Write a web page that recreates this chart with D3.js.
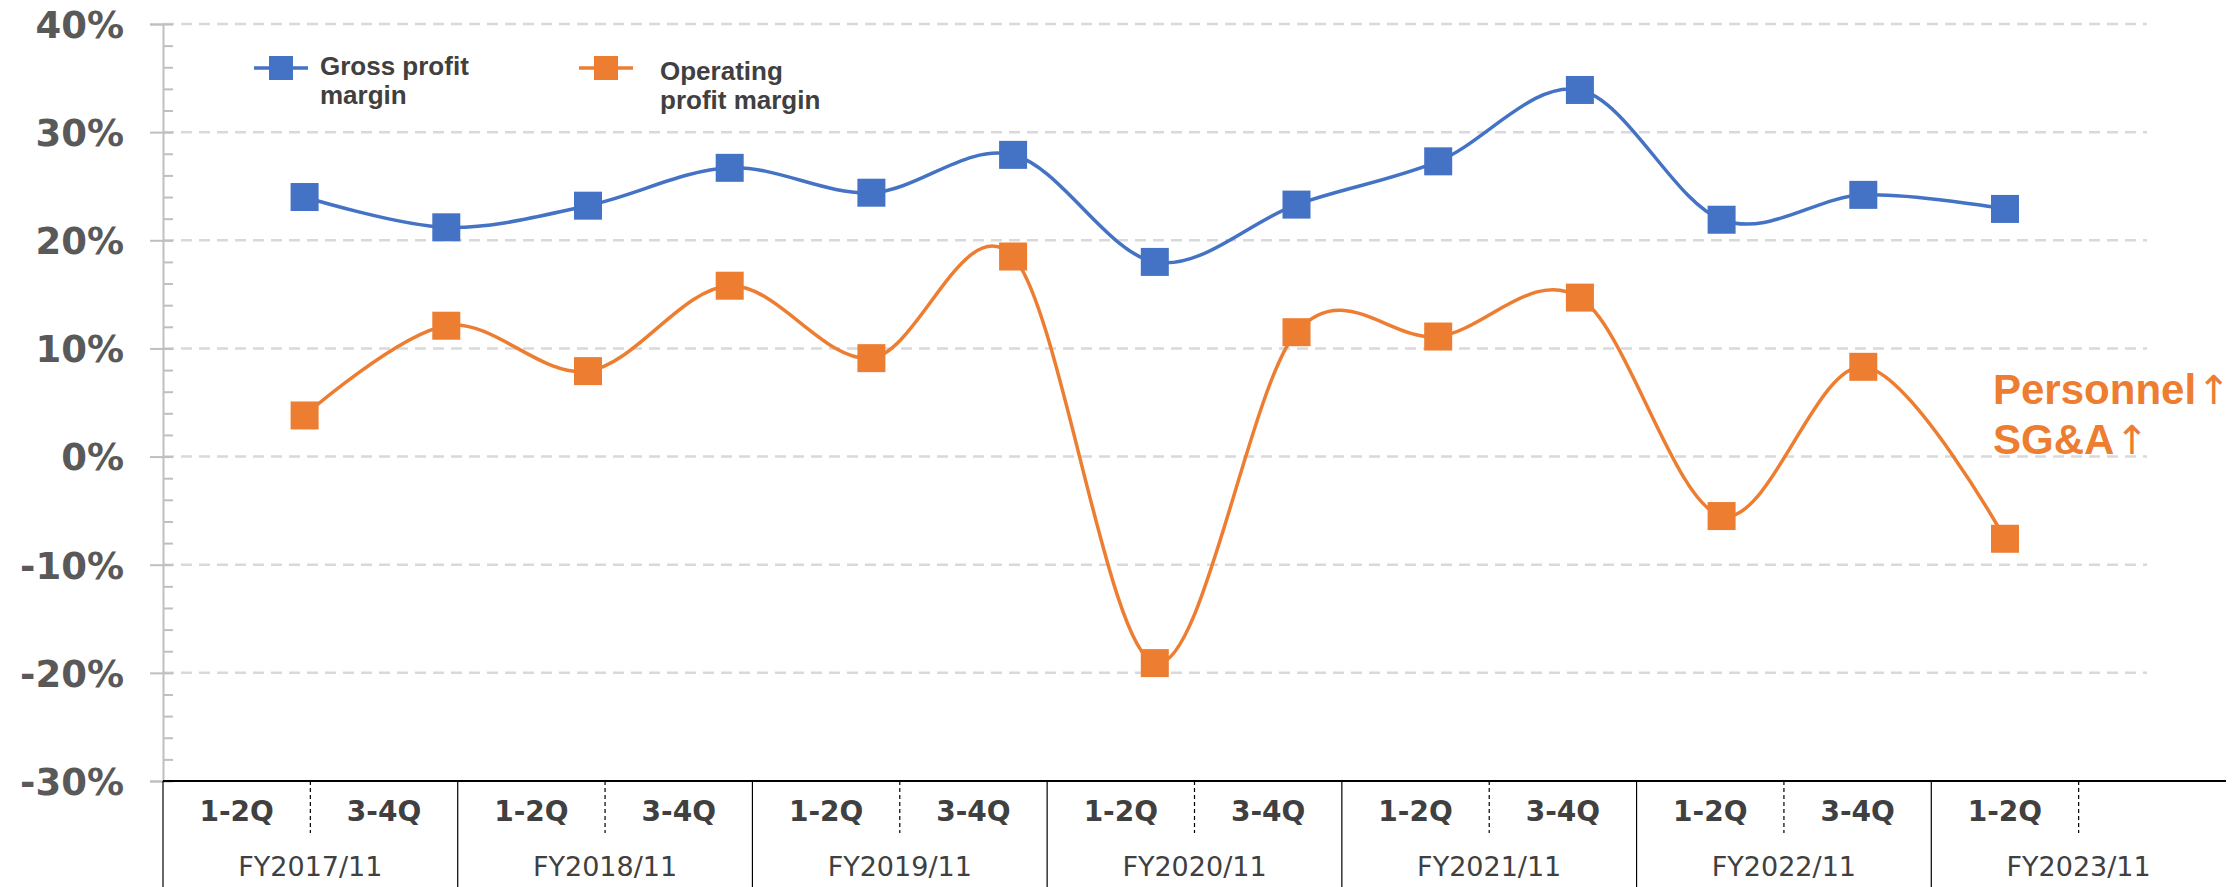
<!DOCTYPE html>
<html>
<head>
<meta charset="utf-8">
<script src="https://cdn.jsdelivr.net/npm/d3@7/dist/d3.min.js"></script>
<style>
  html, body { margin: 0; padding: 0; background: #fff; }
  svg { display: block; }
</style>
</head>
<body>
<svg id="chart" width="2238" height="887"></svg>
<script>
// ---- data ----
const fiscalYears = ["FY2017/11", "FY2018/11", "FY2019/11", "FY2020/11", "FY2021/11", "FY2022/11", "FY2023/11"];
const halves = ["1-2Q", "3-4Q"];
const periods = ["17H1","17H2","18H1","18H2","19H1","19H2","20H1","20H2","21H1","21H2","22H1","22H2","23H1"];
const grossMargin = [24.0, 21.2, 23.2, 26.7, 24.4, 27.9, 18.0, 23.3, 27.3, 33.9, 21.9, 24.2, 22.9];
const operatingMargin = [3.8, 12.1, 7.9, 15.8, 9.1, 18.5, -19.1, 11.5, 11.1, 14.7, -5.5, 8.3, -7.6];
const yMajorTicks = [-30, -20, -10, 0, 10, 20, 30, 40];
const seriesNames = ["Gross profit|margin", "Operating|profit margin"];
const annotation = ["Personnel", "SG&A"];
const arrowGlyph = "↑";

const BLUE = "#4472C4", ORANGE = "#ED7D31";

const svg = d3.select("#chart");

// ---- scales ----
const y = d3.scaleLinear().domain([-30, 40]).range([781, 24]);
const x = d3.scalePoint().domain(periods).range([304.6, 2005]);
const slots = [];
fiscalYears.forEach(fy => halves.forEach(h => slots.push(fy + "|" + h)));
const xSlot = d3.scaleBand().domain(slots).range([163, 2226]);
const xFY = d3.scaleBand().domain(fiscalYears).range([163, 163 + xSlot.bandwidth() * 14]);

// ---- gridlines ----
svg.append("g").selectAll("line").data(yMajorTicks.filter(v => v > -30)).join("line")
  .attr("x1", 163).attr("x2", 2147)
  .attr("y1", d => y(d)).attr("y2", d => y(d))
  .attr("stroke", "#d9d9d9").attr("stroke-width", 2.5)
  .attr("stroke-dasharray", "11,7");

// ---- y axis ----
const minorTicks = d3.range(-30, 40.01, 2);
const gMinor = svg.append("g").attr("transform", "translate(163,0)")
  .call(d3.axisRight(y).tickValues(minorTicks).tickSize(10).tickFormat(""));
gMinor.selectAll("line").attr("stroke", "#bfbfbf").attr("stroke-width", 2);
gMinor.select(".domain").remove();

const gY = svg.append("g").attr("transform", "translate(163,0)")
  .call(d3.axisLeft(y).tickValues(yMajorTicks).tickSize(13).tickPadding(26)
    .tickFormat(d => d + "%"));
gY.select(".domain").attr("stroke", "#bfbfbf").attr("stroke-width", 2);
gY.selectAll(".tick line").attr("stroke", "#bfbfbf").attr("stroke-width", 2);
gY.selectAll(".tick text")
  .attr("font-family", "'DejaVu Sans', Verdana, sans-serif")
  .attr("font-weight", "bold").attr("font-size", 37).attr("fill", "#595959")
  .attr("dy", "0.36em");

// ---- category table (x axis) ----
const gX = svg.append("g");
gX.append("line").attr("x1", 163).attr("x2", 2226).attr("y1", 781).attr("y2", 781)
  .attr("stroke", "#000").attr("stroke-width", 2);
gX.selectAll("line.fy").data(fiscalYears).join("line").attr("class", "fy")
  .attr("x1", d => xFY(d)).attr("x2", d => xFY(d))
  .attr("y1", 781).attr("y2", 887)
  .attr("stroke", "#000").attr("stroke-width", 1.2);
gX.selectAll("line.half").data(fiscalYears).join("line").attr("class", "half")
  .attr("x1", d => xSlot(d + "|3-4Q")).attr("x2", d => xSlot(d + "|3-4Q"))
  .attr("y1", 781).attr("y2", 833)
  .attr("stroke", "#000").attr("stroke-width", 1.2).attr("stroke-dasharray", "4,3");
const halfLabels = slots.filter((s, i) => i < 13);
gX.selectAll("text.half").data(halfLabels).join("text").attr("class", "half")
  .attr("x", d => xSlot(d) + xSlot.bandwidth() / 2).attr("y", 821)
  .attr("text-anchor", "middle")
  .attr("font-family", "'DejaVu Sans', Verdana, sans-serif")
  .attr("font-weight", "bold").attr("font-size", 28).attr("fill", "#404040")
  .text(d => d.split("|")[1]);
gX.selectAll("text.fy").data(fiscalYears).join("text").attr("class", "fy")
  .attr("x", d => xFY(d) + xFY.bandwidth() / 2).attr("y", 876)
  .attr("text-anchor", "middle")
  .attr("font-family", "'DejaVu Sans', Verdana, sans-serif")
  .attr("font-size", 27).attr("fill", "#404040")
  .text(d => d);

// ---- lines ----
const line = d3.line().x((d, i) => x(periods[i])).y(d => y(d)).curve(d3.curveCatmullRom.alpha(0));
const series = [
  { values: grossMargin, color: BLUE },
  { values: operatingMargin, color: ORANGE }
];
series.forEach(s => {
  svg.append("path").datum(s.values).attr("d", line)
    .attr("fill", "none").attr("stroke", s.color).attr("stroke-width", 3.5);
  svg.append("g").selectAll("rect").data(s.values).join("rect")
    .attr("x", (d, i) => x(periods[i]) - 14).attr("y", d => y(d) - 14)
    .attr("width", 28).attr("height", 28).attr("fill", s.color);
});

// ---- legend ----
const legendItems = [
  { name: seriesNames[0], color: BLUE, lx: 254, tx: 320, ty: 75 },
  { name: seriesNames[1], color: ORANGE, lx: 579, tx: 660, ty: 80 }
];
legendItems.forEach(it => {
  const g = svg.append("g");
  g.append("line").attr("x1", it.lx).attr("x2", it.lx + 54).attr("y1", 68).attr("y2", 68)
    .attr("stroke", it.color).attr("stroke-width", 3.5);
  g.append("rect").attr("x", it.lx + 15).attr("y", 56).attr("width", 24).attr("height", 24)
    .attr("fill", it.color);
  const t = g.append("text").attr("x", it.tx).attr("y", it.ty)
    .attr("font-family", "'Liberation Sans', Arial, sans-serif")
    .attr("font-weight", "bold").attr("font-size", 26).attr("fill", "#404040");
  it.name.split("|").forEach((ln, i) => {
    t.append("tspan").attr("x", it.tx).attr("dy", i === 0 ? 0 : 28.5).text(ln);
  });
});

// ---- annotation ----
annotation.forEach((ln, i) => {
  const t = svg.append("text").attr("x", 1993).attr("y", 404 + i * 50)
    .attr("font-family", "'Liberation Sans', Arial, sans-serif")
    .attr("font-weight", "bold").attr("font-size", 42).attr("fill", ORANGE)
    .text(ln);
  const w = t.node().getComputedTextLength();
  svg.append("text").attr("x", 1993 + w + 1).attr("y", 404 + i * 50)
    .attr("font-family", "'DejaVu Sans', sans-serif")
    .attr("font-weight", "normal").attr("font-size", 40).attr("fill", ORANGE)
    .text(arrowGlyph);
});
</script>
</body>
</html>
